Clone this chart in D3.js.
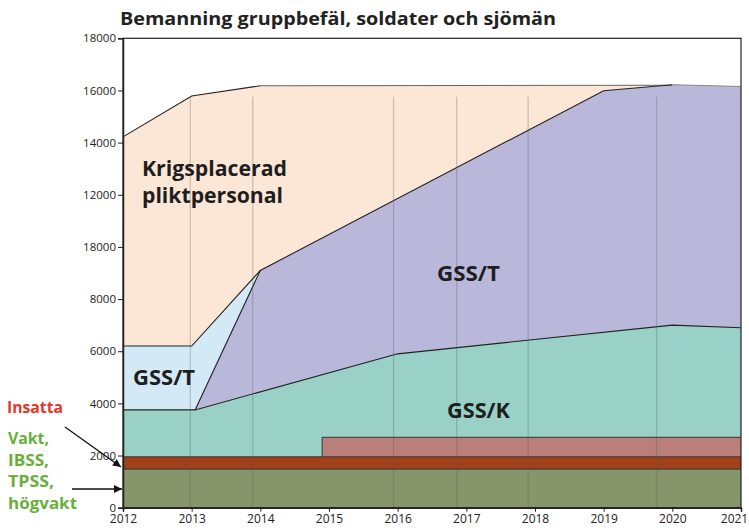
<!DOCTYPE html>
<html>
<head>
<meta charset="utf-8">
<script src="https://cdn.jsdelivr.net/npm/d3@7"></script>
<style>
  body { margin: 0; background: #fff; }
  svg { display: block; font-family: 'Open Sans', sans-serif; }
</style>
</head>
<body>
<div id="chart"></div>
<script>
// ── Data (year, persons) ───────────────────────────────────
const years = [2012, 2013, 2014, 2015, 2016, 2017, 2018, 2019, 2020, 2021];
const yTicks = [0, 2000, 4000, 6000, 8000, 10000, 12000, 14000, 16000, 18000];
const yTickLabels = ['0', '2000', '4000', '6000', '8000', '18000', '12000', '14000', '16000', '18000'];

const vaktTop = [[2012, 1480], [2021, 1480]];
const insattaTop = [[2012, 1950], [2021, 1950]];
const roseTop = [[2014.9, 2700], [2021, 2700]];
const gsskTop = [[2012, 3750], [2013.05, 3750], [2016, 5900], [2020, 7000], [2021, 6900]];
const gsstSmallTop = [[2012, 6200], [2013, 6200], [2014, 9100]];
const gsstTop = [[2013.05, 3750], [2014, 9100], [2019, 15990], [2020, 16220], [2021, 16150]];
const pliktTop = [[2012, 14220], [2013, 15790], [2014, 16180], [2020, 16200]];
const gridYears = [2012.98, 2013.89, 2015.94, 2016.86, 2017.9, 2019.77];
const gridTop = 15760;

const width = 749, height = 530;
const margin = { top: 38.3, right: 8, bottom: 22.3, left: 123 };

const svg = d3.select('#chart').append('svg')
  .attr('width', width)
  .attr('height', height);

const x = d3.scaleLinear().domain([2012, 2021]).range([margin.left, width - margin.right]);
const y = d3.scaleLinear().domain([0, 18000]).range([height - margin.bottom, margin.top]);

const area = (base) => d3.area().x(d => x(d[0])).y0(y(base)).y1(d => y(d[1]));
const line = d3.line().x(d => x(d[0])).y(d => y(d[1]));

// ── Areas (painter's order) ────────────────────────────────
const layers = [
  { data: pliktTop, base: 0, fill: '#fce6d6' },
  { data: gsstSmallTop, base: 0, fill: '#d3eaf6' },
  { data: gsstTop, base: 0, fill: '#b9b8da' },
  { data: gsskTop, base: 0, fill: '#9ad1c6' },
  { data: roseTop, base: 1950, fill: '#b97f78' },
  { data: insattaTop, base: 0, fill: '#a3401c' },
  { data: vaktTop, base: 0, fill: '#87956a' },
];

const g = svg.append('g');
layers.forEach(l => {
  g.append('path').attr('d', area(l.base)(l.data)).attr('fill', l.fill);
});

// outlines
g.append('path').attr('d', line(pliktTop.slice(0, 3))).attr('fill', 'none').attr('stroke', '#222').attr('stroke-width', 1.1);
g.append('path').attr('d', line(pliktTop.slice(2))).attr('fill', 'none').attr('stroke', '#555').attr('stroke-width', 0.9);
g.append('path').attr('d', line(gsstSmallTop)).attr('fill', 'none').attr('stroke', '#222').attr('stroke-width', 1.1);
g.append('path').attr('d', line(gsstTop.slice(0, 4))).attr('fill', 'none').attr('stroke', '#222').attr('stroke-width', 1.1);
g.append('path').attr('d', line(gsstTop.slice(3))).attr('fill', 'none').attr('stroke', '#888').attr('stroke-width', 1);
g.append('path').attr('d', line(gsskTop)).attr('fill', 'none').attr('stroke', '#222').attr('stroke-width', 1.1);
g.append('path')
  .attr('d', line([[roseTop[0][0], 1950], roseTop[0], roseTop[1]]))
  .attr('fill', 'none').attr('stroke', '#333').attr('stroke-width', 1);
g.append('path').attr('d', line(insattaTop)).attr('fill', 'none').attr('stroke', '#333').attr('stroke-width', 1);
g.append('path').attr('d', line(vaktTop)).attr('fill', 'none').attr('stroke', '#333').attr('stroke-width', 1);

// grid lines on top
g.selectAll('.grid').data(gridYears).join('line')
  .attr('x1', d => x(d)).attr('x2', d => x(d))
  .attr('y1', y(gridTop)).attr('y2', y(0))
  .attr('stroke', '#555').attr('stroke-opacity', 0.3).attr('stroke-width', 1.2);

// frame
svg.append('rect')
  .attr('x', x(2012)).attr('y', y(18000))
  .attr('width', x(2021) - x(2012)).attr('height', y(0) - y(18000))
  .attr('fill', 'none').attr('stroke', '#222').attr('stroke-width', 1.2);

// ── Axes ───────────────────────────────────────────────────
const yAxis = svg.append('g')
  .attr('transform', `translate(${x(2012)},0)`)
  .call(d3.axisLeft(y).tickValues(yTicks).tickSize(5).tickPadding(2)
    .tickFormat((d, i) => yTickLabels[i]));
yAxis.select('.domain').attr('stroke', '#222').attr('stroke-width', 1.5);
yAxis.selectAll('text').attr('font-size', 11.5).attr('fill', '#222').attr('font-family', "'Open Sans', sans-serif");
yAxis.selectAll('.tick line').attr('stroke', '#222');

const xAxis = svg.append('g')
  .attr('transform', `translate(0,${y(0)})`)
  .call(d3.axisBottom(x).tickValues(years).tickSize(4).tickPadding(3).tickFormat(d3.format('d')));
xAxis.select('.domain').attr('stroke', '#222').attr('stroke-width', 1.5);
xAxis.selectAll('text').attr('font-size', 12).attr('fill', '#222').attr('font-family', "'Open Sans', sans-serif");
xAxis.selectAll('.tick line').attr('stroke', '#222');
// last label sits at the right edge
xAxis.selectAll('.tick text').filter(d => d === 2021).attr('dx', -7);

// ── Labels ─────────────────────────────────────────────────
svg.append('text')
  .attr('x', 120).attr('y', 25)
  .attr('font-size', 18).attr('font-weight', 700).attr('fill', '#222')
  .attr('textLength', 436).attr('lengthAdjust', 'spacingAndGlyphs')
  .text('Bemanning gruppbefäl, soldater och sjömän');

const big = [
  { t: 'Krigsplacerad', x: 142, y: 176, w: 145 },
  { t: 'pliktpersonal', x: 142, y: 203, w: 141 },
  { t: 'GSS/T', x: 437, y: 281, w: 63 },
  { t: 'GSS/T', x: 133, y: 385, w: 62 },
  { t: 'GSS/K', x: 447, y: 418, w: 63 },
];
svg.selectAll('.big').data(big).join('text')
  .attr('x', d => d.x).attr('y', d => d.y)
  .attr('font-size', 21.5).attr('font-weight', 700).attr('fill', '#1e1e1e')
  .attr('textLength', d => d.w).attr('lengthAdjust', 'spacingAndGlyphs')
  .text(d => d.t);

svg.append('text')
  .attr('x', 7).attr('y', 413)
  .attr('font-size', 16).attr('font-weight', 700).attr('fill', '#e5352c')
  .attr('textLength', 56).attr('lengthAdjust', 'spacingAndGlyphs')
  .text('Insatta');

const green = [
  { t: 'Vakt,', y: 444, w: 41 },
  { t: 'IBSS,', y: 465.5, w: 41 },
  { t: 'TPSS,', y: 487, w: 46 },
  { t: 'högvakt', y: 509, w: 69 },
];
svg.selectAll('.green').data(green).join('text')
  .attr('x', 8).attr('y', d => d.y)
  .attr('font-size', 16).attr('font-weight', 700).attr('fill', '#68b03a')
  .attr('textLength', d => d.w).attr('lengthAdjust', 'spacingAndGlyphs')
  .text(d => d.t);

// arrows
const defs = svg.append('defs');
defs.append('marker').attr('id', 'arrow')
  .attr('viewBox', '0 0 10 10').attr('refX', 10).attr('refY', 5)
  .attr('markerWidth', 10).attr('markerHeight', 8).attr('markerUnits', 'userSpaceOnUse')
  .attr('orient', 'auto')
  .append('path').attr('d', 'M0,0 L10,5 L0,10 z').attr('fill', '#111');

const arrows = [
  { x1: 65, y1: 427, x2: 121, y2: 467 },
  { x1: 72, y1: 489, x2: 122, y2: 489 },
];
svg.selectAll('.arrow').data(arrows).join('line')
  .attr('x1', d => d.x1).attr('y1', d => d.y1)
  .attr('x2', d => d.x2).attr('y2', d => d.y2)
  .attr('stroke', '#111').attr('stroke-width', 1.3)
  .attr('marker-end', 'url(#arrow)');
</script>
</body>
</html>
